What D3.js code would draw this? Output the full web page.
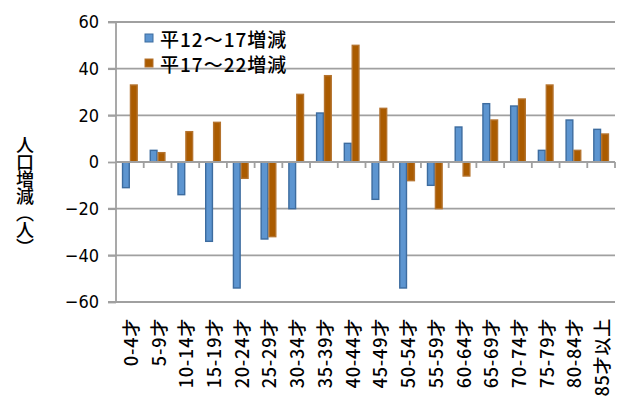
<!DOCTYPE html>
<html>
<head>
<meta charset="utf-8">
<script src="https://cdn.jsdelivr.net/npm/d3@7"></script>
<style>
  html, body { margin: 0; padding: 0; background: #fff; }
  svg { display: block; }
  text { font-family: "Liberation Sans Narrow", "DejaVu Sans Condensed", "Noto Sans CJK JP", sans-serif; fill: #000; }
  .jp { font-family: "Noto Sans CJK JP", sans-serif; font-weight: 500; }
</style>
</head>
<body>
<svg id="chart" width="619" height="400"></svg>
<script>
// Age groups (5-year bands)
const categories = ["0-4才", "5-9才", "10-14才", "15-19才", "20-24才", "25-29才", "30-34才",
  "35-39才", "40-44才", "45-49才", "50-54才", "55-59才", "60-64才", "65-69才",
  "70-74才", "75-79才", "80-84才", "85才以上"];

// Population change, H12→H17
const changeH12to17 = [-11, 5, -14, -34, -54, -33, -20, 21, 8, -16, -54, -10, 15, 25, 24, 5, 18, 14];
// Population change, H17→H22
const changeH17to22 = [33, 4, 13, 17, -7, -32, 29, 37, 50, 23, -8, -20, -6, 18, 27, 33, 5, 12];

const seriesNames = ["平12～17増減", "平17～22増減"];
const yTicks = [60, 40, 20, 0, -20, -40, -60];

const svg = d3.select("#chart");
const plotLeft = 116, plotRight = 615, plotTop = 22, plotBottom = 302;

const x = d3.scaleBand().domain(categories).range([plotLeft, plotRight]).paddingInner(0).paddingOuter(0);
const y = d3.scaleLinear().domain([-60, 60]).range([plotBottom, plotTop]);
const barW = x.bandwidth() / 3.5;

const gridColor = "#a0a0a0";

// Horizontal gridlines (the zero line is drawn with the category axis)
svg.append("g").selectAll("line")
  .data(yTicks.filter(d => d !== 0))
  .join("line")
  .attr("x1", plotLeft - 8).attr("x2", plotRight)
  .attr("y1", d => y(d)).attr("y2", d => y(d))
  .attr("stroke", gridColor).attr("stroke-width", 1.8);

// Value axis
const yAxis = d3.axisLeft(y).tickValues(yTicks).tickSize(8).tickPadding(9)
  .tickFormat(d => d < 0 ? "−" + Math.abs(d) : String(d));
const gy = svg.append("g").attr("transform", `translate(${plotLeft},0)`).call(yAxis);
gy.select(".domain").attr("stroke", gridColor).attr("stroke-width", 1.8).attr("d", `M0,${plotTop}V${plotBottom}`);
gy.selectAll(".tick line").attr("stroke", gridColor).attr("stroke-width", 1.8);
gy.selectAll(".tick text").attr("font-size", 18).attr("fill", "#000")
  .style("font-family", "'Liberation Sans Narrow', 'DejaVu Sans Condensed', sans-serif");

// Bars
const series = [
  { name: seriesNames[0], values: changeH12to17, fill: "#5d95d0", stroke: "#3d6c9f", offset: -1 },
  { name: seriesNames[1], values: changeH17to22, fill: "#aa5b00", stroke: "#b4732e", offset: 0 }
];

series.forEach(s => {
  svg.append("g").selectAll("rect")
    .data(categories.map((c, i) => ({ c, v: s.values[i] })))
    .join("rect")
    .attr("x", d => x(d.c) + x.bandwidth() / 2 + s.offset * barW + 0.6)
    .attr("width", barW - 1.2)
    .attr("y", d => Math.min(y(d.v), y(0)))
    .attr("height", d => Math.abs(y(d.v) - y(0)))
    .attr("fill", s.fill)
    .attr("stroke", s.stroke)
    .attr("stroke-width", 1.4);
});

// Category axis along zero
const ticksX = categories.map(c => x(c)).concat([plotRight]);
const gx = svg.append("g");
gx.append("line").attr("x1", plotLeft).attr("x2", plotRight).attr("y1", y(0)).attr("y2", y(0))
  .attr("stroke", gridColor).attr("stroke-width", 1.8);
gx.selectAll("line.tk").data(ticksX.slice(1)).join("line").attr("class", "tk")
  .attr("x1", d => d).attr("x2", d => d)
  .attr("y1", y(0)).attr("y2", y(0) + 6)
  .attr("stroke", gridColor).attr("stroke-width", 1.8);

// Category labels, rotated, below the plot
svg.append("g").selectAll("text")
  .data(categories)
  .join("text")
  .attr("class", "jp")
  .attr("transform", d => `translate(${x(d) + x.bandwidth() / 2 + 8},318) rotate(-90)`)
  .attr("text-anchor", "end")
  .attr("font-size", 18)
  .style("letter-spacing", "0.8px")
  .text(d => d);

// Axis title, stacked vertically
svg.append("text")
  .attr("class", "jp")
  .attr("x", 25).attr("y", 136)
  .attr("font-size", 18)
  .style("writing-mode", "vertical-rl")
  .style("text-orientation", "upright")
  .style("letter-spacing", "-1px")
  .text("人口増減（人）");

// Legend
const legend = svg.append("g").attr("transform", "translate(145,30)");
series.forEach((s, i) => {
  const g = legend.append("g").attr("transform", `translate(0,${i * 25})`);
  g.append("rect").attr("x", 0).attr("y", 4).attr("width", 8).attr("height", 8)
    .attr("fill", s.fill).attr("stroke", s.stroke).attr("stroke-width", 1);
  g.append("text").attr("class", "jp").attr("x", 15).attr("y", 17)
    .attr("font-size", 19).style("letter-spacing", "1px").text(s.name);
});
</script>
</body>
</html>
